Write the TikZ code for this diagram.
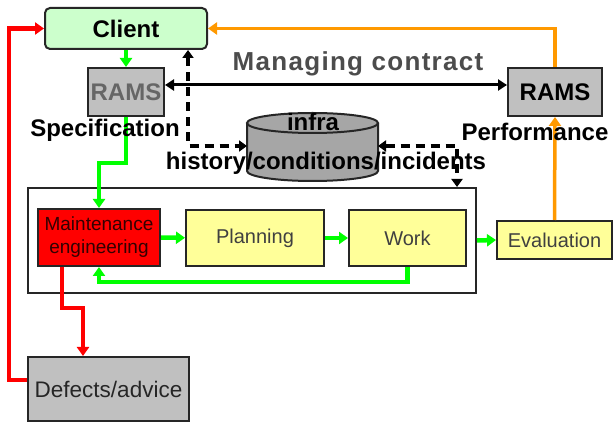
\documentclass[tikz,border=0pt]{standalone}
\usepackage{fontspec}
\setmainfont{Liberation Sans}
\usetikzlibrary{arrows.meta,calc}
\definecolor{cgreen}{HTML}{00FF00}
\definecolor{cred}{HTML}{FF0000}
\definecolor{corange}{HTML}{FF9900}
\definecolor{cyellow}{HTML}{FFFF99}
\definecolor{cclient}{HTML}{CCFFCC}
\definecolor{cgray}{HTML}{C0C0C0}
\definecolor{ccyl}{HTML}{A6A6A6}
\definecolor{cborder}{HTML}{262626}
\definecolor{ctext}{HTML}{404040}
\newcommand{\fsz}[1]{\fontsize{#1}{#1}\selectfont}
\begin{document}
\begin{tikzpicture}[x=1pt,y=1pt,
  box/.style={draw=cborder, line width=2pt, inner sep=0pt},
  lbl/.style={inner sep=0pt, font=\fsz{24}\bfseries},
  tip/.style={-{Triangle[length=9pt,width=12pt]}},
  gline/.style={draw=cgreen, line width=4.5pt, tip},
  rline/.style={draw=cred, line width=4.5pt, tip},
  oline/.style={draw=corange, line width=3.5pt, tip},
  dline/.style={draw=black, line width=3.5pt, dash pattern=on 9pt off 6pt, {Triangle[length=8pt,width=11pt]}-{Triangle[length=8pt,width=11pt]}}
]
\useasboundingbox (0,0) rectangle (613,423);
\fill[white] (0,0) rectangle (613,423);

% boxes
\node[box, fill=white, minimum width=448, minimum height=105] (outer) at (252,182.5) {};
\node[box, rounded corners=5pt, fill=cclient, minimum width=162, minimum height=41, font=\fsz{24}\bfseries] (client) at (126,394.5) {Client};
\node[box, fill=cgray, minimum width=76, minimum height=48, font=\fsz{24}\bfseries, text=black!60] (ramsl) at (126,331) {RAMS};
\node[box, fill=cgray, minimum width=94, minimum height=48, font=\fsz{24}\bfseries] (ramsr) at (555,331) {RAMS};
\node[box, fill=cred, minimum width=122, minimum height=57, align=center, font=\fontsize{19}{23}\selectfont, text=black!80!red] (maint) at (99,185.5) {Maintenance\\engineering};
\node[box, fill=cyellow, minimum width=138, minimum height=56, font=\fsz{20}, text=ctext] (plan) at (255,185) {Planning};
\node[box, fill=cyellow, minimum width=117, minimum height=56, font=\fsz{20}, text=ctext] (work) at (407.5,185) {Work};
\node[box, fill=cyellow, minimum width=115, minimum height=38, font=\fsz{20}, text=ctext] (eval) at (554.5,183) {Evaluation};
\node[box, fill=cgray, minimum width=161, minimum height=64, font=\fsz{22.5}, text=black!85] (defects) at (108.5,34) {Defects/advice};

% cylinder
\fill[ccyl] (247,300) -- (247,252) arc[start angle=180,end angle=360,x radius=65.5pt,y radius=10pt] -- (378,300) arc[start angle=0,end angle=180,x radius=65.5pt,y radius=10pt] -- cycle;
\draw[cborder, line width=2pt] (247,300) -- (247,252) arc[start angle=180,end angle=360,x radius=65.5pt,y radius=10pt] -- (378,300);
\draw[cborder, line width=2pt] (312.5,300) ellipse[x radius=65.5pt,y radius=10pt];
\coordinate (cylL) at (247,277);
\coordinate (cylR) at (378,277);

% green connectors
\draw[gline] (client) -- (ramsl);
\draw[gline] (ramsl.south) -- (ramsl.south |- 0,260) -- (maint.north |- 0,260) -- (maint.north);
\draw[gline] (maint) -- (plan);
\draw[gline] (plan) -- (work);
\draw[gline] (work.south) -- (work.south |- 0,141) -| (maint.south);
\draw[gline] (outer.east) -- (eval.west);

% red connectors
\draw[rline] ([xshift=-37pt]maint.south) -- ++(0,-41) -| ([xshift=-25.5pt]defects.north);
\draw[rline] ([yshift=9pt]defects.west) -- ++(-18,0) |- (client.west);

% orange connectors
\draw[oline] (eval.north) -- (ramsr.south);
\draw[oline] (ramsr.north) |- (client.east);

% black connectors
\draw[line width=3pt, {Triangle[length=9pt,width=11pt]}-{Triangle[length=9pt,width=11pt]}] ([yshift=7pt]ramsl.east) -- ([yshift=7pt]ramsr.west);
\draw[dline] ([xshift=62pt]client.south) |- (cylL);
\draw[dline] (cylR) -| ([xshift=-20pt]outer.north east);

% labels
\node[lbl, font=\fsz{26}\bfseries\addfontfeature{LetterSpace=5}, text=black!70] (mc) at (358,359) {Managing contract};
\node[lbl] (spec) at (105,293) {Specification};
\node[lbl] (perf) at (535,291) {Performance};
\node[lbl] (infra) at (313,301) {infra};
\node[lbl] (hci) at (326,260) {history/conditions/incidents};
\end{tikzpicture}
\end{document}
